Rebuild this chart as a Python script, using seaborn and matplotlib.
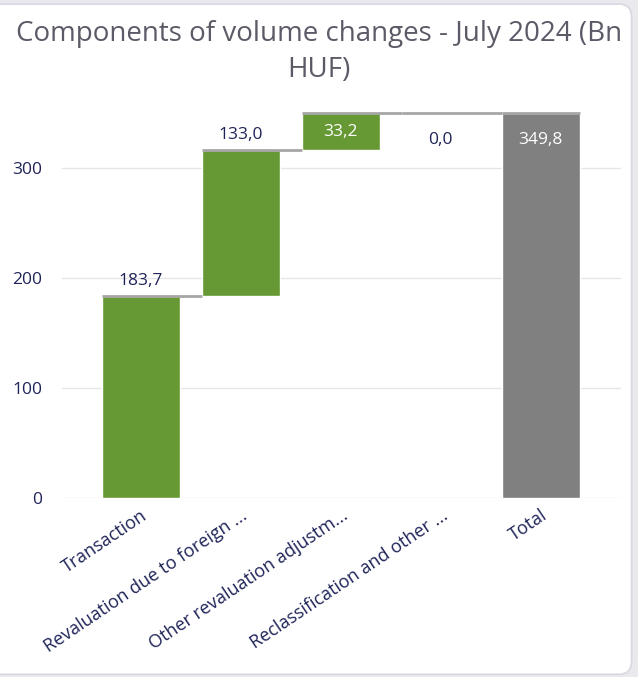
import numpy as np
import seaborn as sns
import matplotlib.pyplot as plt
from matplotlib.patches import FancyBboxPatch

# ---------------------------
# Datos
# ---------------------------
categories = [
    "Transaction",
    "Revaluation due to foreign ...",
    "Other revaluation adjustm...",
    "Reclassification and other ...",
    "Total",
]
changes = [183.7, 133.0, 33.2, 0.0]
total = 349.8
value_labels = ["183,7", "133,0", "33,2", "0,0", "349,8"]

heights = np.array(changes + [total])
bases = np.concatenate([[0], np.cumsum(changes)[:-1], [0]])
tops = bases + heights

GREEN = "#669933"
GREY = "#808080"
NAVY = "#1F2458"

# ---------------------------
# Figura
# ---------------------------
sns.set_style("white")
plt.rcParams["font.family"] = ["Open Sans", "DejaVu Sans"]

fig = plt.figure(figsize=(6.38, 6.77), dpi=100, facecolor="#E9E9EE")
card = FancyBboxPatch((-0.02, 0.004), 1.01, 0.99,
                      boxstyle="round,pad=0,rounding_size=0.02",
                      transform=fig.transFigure, facecolor="white",
                      edgecolor="#D8D8E0", linewidth=1.2, zorder=-10)
fig.patches.append(card)

ax = fig.add_axes([0.097, 0.2644, 0.876, 0.5846])
ax.set_facecolor("none")

sns.barplot(x=categories, y=heights, bottom=bases, color=GREEN,
            width=0.78, saturation=1, ax=ax, zorder=2)
ax.patches[-1].set_facecolor(GREY)

# Conectores
for i, t in enumerate(tops):
    x0 = i - 0.39
    x1 = i + 0.61 if i < len(tops) - 1 else i + 0.39
    ax.hlines(t, x0, x1, color="#A6A6A6", linewidth=2, zorder=3)

# Etiquetas de valor
FS = 12.5
for i, (lab, t, h) in enumerate(zip(value_labels, tops, heights)):
    if i < 2:
        ax.annotate(lab, (i, t), xytext=(0, 5), textcoords="offset points",
                    ha="center", va="bottom", fontsize=FS, color=NAVY)
    elif i == 2:
        ax.text(i, t - h / 2, lab, ha="center", va="center",
                fontsize=FS, color="white", zorder=4)
    else:
        ax.annotate(lab, (i, t), xytext=(0, -19), textcoords="offset points",
                    ha="center", va="center", fontsize=FS,
                    color=NAVY if i == 3 else "white", zorder=4)

ax.set_xlim(-0.79, 4.8)
ax.set_ylim(0, 360)
ax.set_yticks([0, 100, 200, 300])
ax.yaxis.grid(True, color="#E6E6E6", linewidth=1, zorder=0)
ax.set_axisbelow(True)
sns.despine(ax=ax, left=True, bottom=True)
ax.tick_params(axis="both", length=0, labelsize=FS, labelcolor=NAVY)
ax.tick_params(axis="y", pad=14)
ax.tick_params(axis="x", pad=6, labelsize=13)
plt.setp(ax.get_xticklabels(), rotation=34, ha="right", rotation_mode="anchor")
ax.set_xlabel("")
ax.set_ylabel("")

fig.text(0.5, 0.971, "Components of volume changes - July 2024 (Bn\nHUF)",
         ha="center", va="top", fontsize=20, color="#5B5B68", linespacing=1.4)

fig.savefig("out.png", dpi=100, facecolor=fig.get_facecolor())
